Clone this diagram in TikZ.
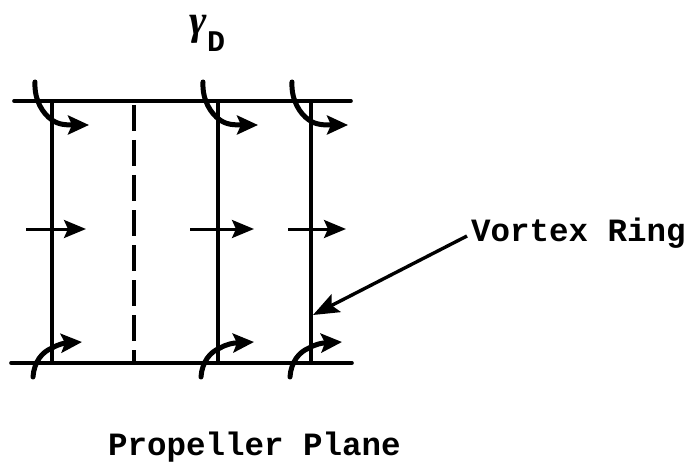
\documentclass[tikz,border=0pt]{standalone}
\usepackage{fontspec}
\setmainfont{Liberation Mono}
\newfontfamily\greekf{Liberation Serif}
\usetikzlibrary{arrows.meta}
\tikzset{
 line/.style={line width=3.6pt,line cap=round},
 vert/.style={line width=3.4pt},
 dashline/.style={line width=4pt,dash pattern=on 26pt off 9pt},
 swirl/.style={line width=5pt,line cap=round,-{Stealth[length=21pt,width=19pt,inset=4pt]}},
 flow/.style={line width=3pt,-{Stealth[length=22pt,width=18pt,inset=4pt]}},
 lead/.style={line width=3.4pt,-{Stealth[length=26pt,width=20pt,inset=5pt]}},
 label/.style={inner sep=0pt,font=\fontsize{32.5}{36}\selectfont\bfseries}
}
\begin{document}
\begin{tikzpicture}[x=1pt,y=-1pt]
\useasboundingbox (0,0) rectangle (691,468);
% frame lines
\coordinate (tl) at (14,101); \coordinate (tr) at (351,101);
\coordinate (bl) at (11,363); \coordinate (br) at (352,363);
\draw[line] (tl) -- (tr);
\draw[line] (bl) -- (br);
\foreach \n/\x in {a/52,b/218,c/311}{
  \coordinate (\n t) at (\x,101);
  \coordinate (\n b) at (\x,363);
  \draw[vert] (\n t) -- (\n b);
}
\coordinate (dt) at (134,105); \coordinate (db) at (134,363);
\draw[dashline] (dt) -- (db);
% mid arrows
\foreach \n/\xa/\xb in {a/26/86,b/190/254,c/288/346}{
  \coordinate (\n ms) at (\xa,229); \coordinate (\n me) at (\xb,229);
  \draw[flow] (\n ms) -- (\n me);
}
% top swirls
\foreach \n/\x/\e in {a/35/89,b/203/258,c/292/348}{
  \coordinate (\n s) at (\x,82); \coordinate (\n e) at (\e,125);
  \draw[swirl] (\n s) .. controls (\x-1,100) and (\x+8,114) .. (\x+17,120) .. controls (\x+24,125) and (\x+32,125) .. (\n e);
}
% bottom swirls
\foreach \n/\x/\e in {a/33/82,b/201/254,c/290/342}{
  \coordinate (\n s) at (\x,377); \coordinate (\n e) at (\e,342);
  \draw[swirl] (\n s) .. controls (\x+1,362) and (\x+9,352) .. (\x+19,348) .. controls (\x+26,344) and (\x+32,343) .. (\n e);
}
% leader
\node[label,anchor=west] (vr) at (471,233) {Vortex Ring};
\coordinate (vt) at (313,315);
\draw[lead] (467,236) -- (vt);
\node[label,anchor=west] (pp) at (108,447) {Propeller Plane};
\node[inner sep=0pt,anchor=center,font=\fontsize{42}{42}\selectfont\bfseries\itshape\greekf] (g) at (198,29) {γ};
\node[label,font=\fontsize{30}{32}\selectfont\bfseries,anchor=center] (d) at (216,42) {D};
\end{tikzpicture}
\end{document}
